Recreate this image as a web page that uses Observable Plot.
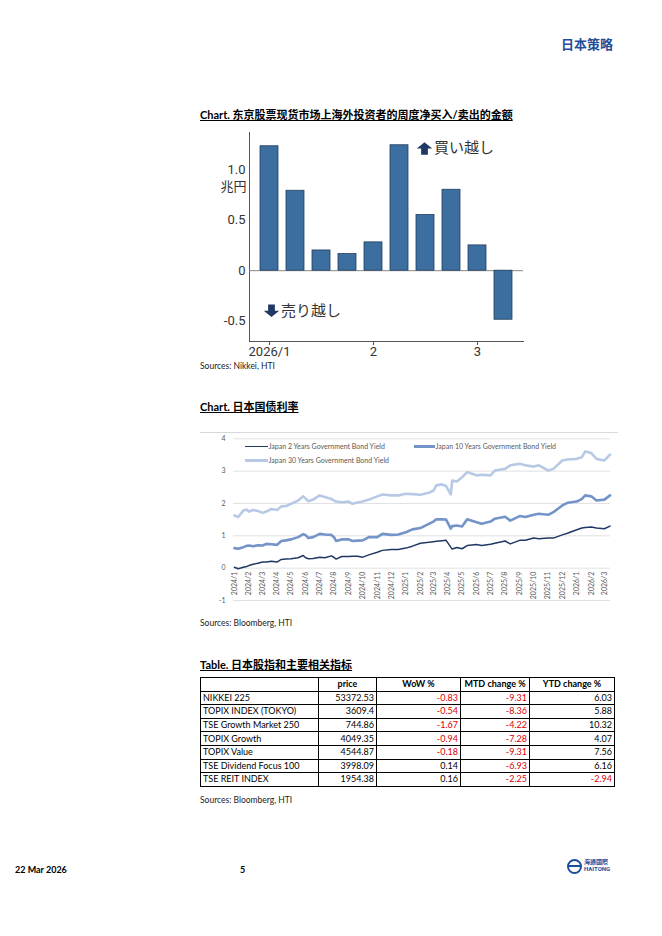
<!DOCTYPE html>
<html><head><meta charset="utf-8">
<script src="https://cdn.jsdelivr.net/npm/d3@7"></script>
<script src="https://cdn.jsdelivr.net/npm/@observablehq/plot@0.6"></script>
<style>
body{margin:0;background:#fff;}
#page{position:relative;width:662px;height:936px;overflow:hidden;font-family:Lato,"Noto Sans CJK SC",sans-serif;color:#000;background:#fff;}
.abs{position:absolute;}
.title{font-size:11px;font-weight:700;text-decoration:underline;line-height:14px;white-space:nowrap;font-family:Lato,"Noto Sans CJK SC",sans-serif;}
.src{font-size:8.5px;line-height:10px;color:#222;white-space:nowrap;}
.leg{font-size:7px;line-height:9px;color:#595959;white-space:nowrap;font-family:Lato,sans-serif;}
table{border-collapse:collapse;font-size:9px;font-family:Lato,sans-serif;table-layout:fixed;}
td,th{border:1px solid #000;padding:0 2px;height:12.6px;line-height:12px;white-space:nowrap;overflow:hidden;}
th{font-weight:700;text-align:center;}
td.num{text-align:right;}
td.neg{color:#e00000;}
</style></head>
<body><div id="page">
<div class="abs" style="right:49px;top:36px;font-size:13px;line-height:16px;font-weight:700;color:#1f4e9a;font-family:'Noto Sans CJK SC';">日本策略</div>

<div class="abs title" style="left:200px;top:108px;">Chart. 东京股票现货市场上海外投资者的周度净买入/卖出的金额</div>
<div id="bar" class="abs" style="left:200px;top:126px;"></div>
<div class="abs src" style="left:200px;top:361px;">Sources: Nikkei, HTI</div>

<div class="abs title" style="left:200px;top:400px;">Chart. 日本国债利率</div>
<div class="abs" style="left:200px;top:432px;width:418px;border-top:1px solid #d9d9d9;"></div>
<div id="line" class="abs" style="left:200px;top:432px;"></div>
<div id="legend"></div>
<div class="abs src" style="left:200px;top:618px;">Sources: Bloomberg, HTI</div>

<div class="abs title" style="left:200px;top:658px;">Table. 日本股指和主要相关指标</div>
<div id="tbl" class="abs" style="left:200px;top:677px;"></div>
<div class="abs src" style="left:200px;top:795px;">Sources: Bloomberg, HTI</div>

<div class="abs" style="left:15px;top:864px;font-size:9px;line-height:12px;font-weight:700;">22 Mar 2026</div>
<div class="abs" style="left:240px;top:864px;font-size:9px;line-height:12px;font-weight:700;">5</div>
<div class="abs" style="left:567px;top:859px;width:11px;height:11px;border:2px solid #1a4f9c;border-radius:50%;"></div>
<div class="abs" style="left:569px;top:865px;width:11px;height:2px;background:#1a4f9c;"></div>
<div class="abs" style="left:584px;top:858px;font-size:6px;line-height:7px;color:#1a4f9c;font-weight:700;font-family:'Noto Sans CJK TC';">海通國際</div>
<div class="abs" style="left:584px;top:865px;font-size:6px;line-height:7px;color:#1a4f9c;font-weight:700;font-family:Roboto;">HAITONG</div>
</div>
<script>
// ---------- Chart 1: weekly net buy/sell by foreign investors (trillion yen)
const weeks = ["2026-01-05","2026-01-12","2026-01-19","2026-01-26","2026-02-02","2026-02-09","2026-02-16","2026-02-23","2026-03-02","2026-03-09"];
const netBuy = [1.23, 0.79, 0.20, 0.165, 0.28, 1.24, 0.55, 0.80, 0.25, -0.485];
const barTickWeeks = ["2026-01-05","2026-02-02","2026-03-02"];
const barTickLabels = ["2026/1","2","3"];
const barYTicks = [-0.5, 0, 0.5, 1.0];
const barYTickLabels = ["-0.5","0","0.5","1.0"];
const barYDomain = [-0.70, 1.366];
const unitLabel = "兆円";
const buyLabel = "買い越し";
const sellLabel = "売り越し";

// ---------- Chart 2: JGB yields
const bondDates = ["2024-01-01","2024-01-09","2024-01-20","2024-01-27","2024-02-01","2024-02-10","2024-02-20","2024-03-01","2024-03-09","2024-03-20","2024-04-01","2024-04-10","2024-04-20","2024-05-01","2024-05-16","2024-05-27","2024-06-01","2024-06-07","2024-06-17","2024-07-01","2024-07-12","2024-07-26","2024-08-01","2024-08-05","2024-08-17","2024-09-01","2024-09-09","2024-09-20","2024-10-01","2024-10-14","2024-11-01","2024-11-12","2024-12-01","2024-12-16","2025-01-01","2025-01-15","2025-02-01","2025-02-19","2025-03-01","2025-03-07","2025-03-19","2025-03-28","2025-04-07","2025-04-10","2025-04-20","2025-05-01","2025-05-12","2025-06-01","2025-06-12","2025-07-01","2025-07-10","2025-08-01","2025-08-12","2025-09-01","2025-09-13","2025-10-01","2025-10-12","2025-11-01","2025-11-12","2025-12-01","2025-12-12","2026-01-01","2026-01-12","2026-01-19","2026-02-01","2026-02-12","2026-03-01","2026-03-13"];
const jgb2y = [0.03,-0.02,0.03,0.05,0.08,0.12,0.15,0.19,0.19,0.21,0.19,0.27,0.28,0.29,0.32,0.39,0.32,0.29,0.30,0.34,0.32,0.38,0.33,0.28,0.36,0.36,0.37,0.37,0.34,0.41,0.49,0.55,0.58,0.58,0.62,0.68,0.77,0.80,0.82,0.83,0.85,0.86,0.65,0.59,0.64,0.60,0.70,0.73,0.70,0.74,0.77,0.84,0.75,0.86,0.86,0.93,0.91,0.93,0.93,1.03,1.08,1.19,1.24,1.26,1.27,1.24,1.22,1.30];
const jgb10y = [0.62,0.60,0.65,0.69,0.70,0.68,0.71,0.70,0.75,0.74,0.72,0.84,0.86,0.89,0.96,1.05,1.02,0.93,0.96,1.06,1.04,1.03,0.95,0.84,0.89,0.89,0.84,0.85,0.86,0.96,0.96,1.06,1.03,1.04,1.11,1.20,1.24,1.37,1.44,1.51,1.51,1.50,1.22,1.30,1.32,1.29,1.51,1.42,1.37,1.44,1.53,1.59,1.47,1.61,1.58,1.65,1.68,1.65,1.73,1.94,2.02,2.06,2.14,2.25,2.22,2.09,2.12,2.25];
const jgb30y = [1.63,1.58,1.78,1.81,1.75,1.80,1.77,1.71,1.75,1.83,1.80,1.91,1.92,1.99,2.09,2.22,2.15,2.07,2.12,2.25,2.20,2.14,2.09,2.06,2.04,2.06,1.99,2.03,2.06,2.12,2.22,2.28,2.25,2.25,2.30,2.29,2.27,2.33,2.40,2.56,2.59,2.54,2.28,2.71,2.68,2.81,2.97,2.87,2.89,2.87,3.02,3.07,3.18,3.23,3.18,3.14,3.18,3.02,3.07,3.33,3.36,3.38,3.43,3.61,3.56,3.38,3.33,3.51];
const seriesNames = ["Japan 2 Years Government Bond Yield","Japan 10 Years Government Bond Yield","Japan 30 Years Government Bond Yield"];
const seriesColors = ["#1f3864","#7393c9","#b8c9e6"];
const lineYTicks = [-1,0,1,2,3,4];
const lineXDomain = ["2023-12-30","2026-03-14"];
const monthTickStart = "2024-01-01", monthTickEnd = "2026-03-02";

// ---------- Table
const indexNames = ["NIKKEI 225","TOPIX INDEX (TOKYO)","TSE Growth Market 250","TOPIX Growth","TOPIX Value","TSE Dividend Focus 100","TSE REIT INDEX"];
const prices = ["53372.53","3609.4","744.86","4049.35","4544.87","3998.09","1954.38"];
const wow = [-0.83,-0.54,-1.67,-0.94,-0.18,0.14,0.16];
const mtd = [-9.31,-8.36,-4.22,-7.28,-9.31,-6.93,-2.25];
const ytd = [6.03,5.88,10.32,4.07,7.56,6.16,-2.94];
const tableHeaders = ["","price","WoW %","MTD change %","YTD change %"];

// ===== Bar chart
const barData = weeks.map((w, i) => ({week: w, value: netBuy[i]}));
const blockArrow = {
  draw(ctx, l) {
    const h = l * 0.5, w = l * 0.62, s = l * 0.27;
    ctx.moveTo(-s, 0); ctx.lineTo(-s, -h); ctx.lineTo(-w, -h); ctx.lineTo(0, -l);
    ctx.lineTo(w, -h); ctx.lineTo(s, -h); ctx.lineTo(s, 0); ctx.closePath();
  }
};
const cjk = "'Noto Sans CJK JP'";
const bar = Plot.plot({
  width: 330, height: 235,
  marginLeft: 49, marginRight: 7, marginTop: 6, marginBottom: 20,
  style: {fontFamily: "Roboto", fontSize: "13px", color: "#333", background: "transparent", overflow: "visible"},
  x: {domain: weeks, padding: 0.31, axis: null},
  y: {domain: barYDomain, axis: null},
  marks: [
    Plot.axisY({ticks: barYTicks, tickFormat: d => barYTickLabels[barYTicks.indexOf(d)], tickSize: 0, tickPadding: 4, label: null, fontSize: 13}),
    Plot.axisX({ticks: barTickWeeks, tickFormat: d => barTickLabels[barTickWeeks.indexOf(d)], tickSize: 4, tickPadding: 1, label: null, fontSize: 13, stroke: "#555"}),
    Plot.frame({anchor: "left", stroke: "#555"}),
    Plot.frame({anchor: "bottom", stroke: "#555"}),
    Plot.ruleY([0], {stroke: "#888", strokeWidth: 1}),
    Plot.barY(barData, {x: "week", y: "value", fill: "#3c6e9f", stroke: "#22405f", strokeWidth: 0.8}),
    Plot.text([{x: weeks[0], y: 0.83}], {x: "x", y: "y", text: () => unitLabel, dx: -36, fontSize: 13, fill: "#333", fontFamily: cjk}),
    Plot.vector([{x: weeks[6], y: 1.208}], {x: "x", y: "y", length: 12.5, shape: blockArrow, anchor: "middle", fill: "#1f3864", stroke: "none", dx: -1}),
    Plot.text([{x: weeks[6], y: 1.208}], {x: "x", y: "y", text: () => buyLabel, dx: 8.5, textAnchor: "start", fontSize: 15, fill: "#333", fontFamily: cjk}),
    Plot.vector([{x: weeks[0], y: -0.396}], {x: "x", y: "y", length: 12.5, shape: blockArrow, anchor: "middle", rotate: 180, fill: "#1f3864", stroke: "none", dx: 2}),
    Plot.text([{x: weeks[0], y: -0.396}], {x: "x", y: "y", text: () => sellLabel, dx: 11.5, textAnchor: "start", fontSize: 15, fill: "#333", fontFamily: cjk})
  ]
});
document.getElementById("bar").append(bar);

// ===== Line chart
const parse = d3.utcParse("%Y-%m-%d");
const dates = bondDates.map(parse);
const series = [jgb30y, jgb10y, jgb2y];
const widths = [2.6, 2.6, 1.5];
const colorsOrdered = [seriesColors[2], seriesColors[1], seriesColors[0]];
const monthTicks = d3.utcMonth.range(parse(monthTickStart), parse(monthTickEnd));
const fmtMonth = d3.utcFormat("%Y/%-m");
const line = Plot.plot({
  width: 420, height: 176,
  marginLeft: 33, marginRight: 10, marginTop: 6.3, marginBottom: 8,
  style: {fontFamily: "Lato, sans-serif", fontSize: "7px", color: "#595959", background: "transparent", overflow: "visible"},
  x: {type: "utc", domain: lineXDomain.map(parse), axis: null},
  y: {domain: [-1, 4], axis: null},
  marks: [
    Plot.gridY(lineYTicks, {stroke: "#d9d9d9", strokeOpacity: 1, strokeWidth: 0.8}),
    Plot.axisY({ticks: lineYTicks, tickFormat: d => String(d), tickSize: 0, tickPadding: 8, label: null, fontSize: 7}),
    Plot.text(monthTicks, {x: d => d, y: 0, text: d => fmtMonth(d), rotate: -90, textAnchor: "end", dy: 3.5, fontSize: 7, fill: "#595959"}),
    ...series.map((vals, k) => Plot.line(dates.map((d, i) => ({date: d, value: vals[i]})), {x: "date", y: "value", stroke: colorsOrdered[k], strokeWidth: widths[k], curve: "linear"}))
  ]
});
document.getElementById("line").append(line);

// legend (HTML)
const legendItems = [
  {name: seriesNames[0], color: seriesColors[0], w: 1.5, left: 245, top: 446.7, len: 23},
  {name: seriesNames[1], color: seriesColors[1], w: 2.6, left: 414, top: 446.7, len: 21},
  {name: seriesNames[2], color: seriesColors[2], w: 2.6, left: 245, top: 460.5, len: 23}
];
const leg = document.getElementById("legend");
legendItems.forEach(it => {
  const s = document.createElement("div");
  s.className = "abs";
  s.style.cssText = `left:${it.left}px;top:${it.top - it.w/2}px;width:${it.len}px;height:${it.w}px;background:${it.color};`;
  leg.append(s);
  const t = document.createElement("div");
  t.className = "abs leg";
  t.style.cssText = `left:${it.left + it.len + 0.5}px;top:${it.top - 4.5}px;`;
  t.textContent = it.name;
  leg.append(t);
});

// ===== Table
const colW = [118, 58, 84, 69, 85];
const tbl = document.createElement("table");
const cg = document.createElement("colgroup");
colW.forEach(w => { const c = document.createElement("col"); c.style.width = w + "px"; cg.append(c); });
tbl.append(cg);
const hr = document.createElement("tr");
tableHeaders.forEach(h => { const th = document.createElement("th"); th.textContent = h; hr.append(th); });
tbl.append(hr);
indexNames.forEach((n, i) => {
  const tr = document.createElement("tr");
  const c0 = document.createElement("td"); c0.textContent = n; tr.append(c0);
  const c1 = document.createElement("td"); c1.className = "num"; c1.textContent = prices[i]; tr.append(c1);
  [wow[i], mtd[i], ytd[i]].forEach(v => {
    const c = document.createElement("td");
    c.className = "num" + (v < 0 ? " neg" : "");
    c.textContent = v.toFixed(2);
    tr.append(c);
  });
  tbl.append(tr);
});
tbl.style.width = colW.reduce((a, b) => a + b, 0) + "px";
document.getElementById("tbl").append(tbl);
</script>
</body></html>
